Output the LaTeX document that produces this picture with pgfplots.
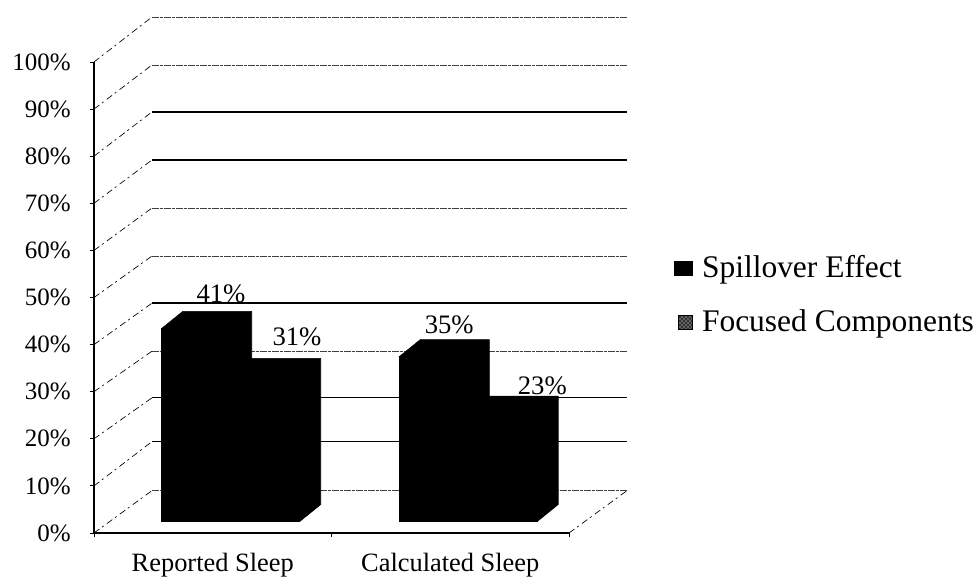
\documentclass[border=0pt]{standalone}
\usepackage{fontspec}
\setmainfont{Liberation Serif}
\usepackage{pgfplots}
\pgfplotsset{compat=1.18}
\usetikzlibrary{patterns}
% 1 image pixel = 0.75pt, page is 979x579
\tikzset{
  side/.style={black,line width=0.5pt,dash pattern=on 5pt off 2.5pt on 1.5pt off 3pt},
  solidback/.style={black,line width=1pt},
  faintback/.style={black!75,line width=0.6pt,dash pattern=on 5pt off 1pt on 2pt off 1pt},
  barbody/.style={fill=black,draw=black,line width=0.4pt},
  vlabel/.style={font=\fontsize{20pt}{21pt}\selectfont,anchor=base,inner sep=0pt},
}
\begin{document}
\begin{tikzpicture}
\path[use as bounding box] (0,0) rectangle (734.25pt,434.25pt);
% walls, floor and axis
\begin{axis}[
  at={(70.5pt,34.5pt)},anchor=south west,
  scale only axis,width=399.75pt,height=387pt,
  xmin=-0.5,xmax=1.7442,ymin=0,ymax=109.55,
  axis line style={draw=none},
  axis x line*=bottom,axis y line*=left,
  clip=false,
  ytick={0,10,...,100},
  yticklabel={\pgfmathprintnumber{\tick}\%},
  /pgf/number format/assume math mode=true,
  yticklabel style={font=\fontsize{18.75pt}{20pt}\selectfont,xshift=-11pt},
  xtick={-0.5,0.5,1.5},xticklabels={},
  extra x ticks={0,1},
  extra x tick labels={Reported Sleep,Calculated Sleep},
  extra x tick style={major tick length=0pt,xticklabel style={font=\fontsize{19.8pt}{21pt}\selectfont,inner sep=0pt,yshift=-15.2pt}},
  tick style={black,line width=0.6pt},
  major tick length=3pt,
  tick align=outside,
]
% front axis lines
\addplot[black,line width=1pt,forget plot] coordinates {(-0.5,0) (-0.5,100)};
\addplot[black,line width=1pt,forget plot] coordinates {(-0.5,0) (1.5,0)};
\addplot[side,forget plot] coordinates {(1.5,0) (1.7442,9.0)};
% receding grid lines
\addplot[side,forget plot] coordinates {(-0.5,0) (-0.2558,9.0)};
\addplot[side,forget plot] coordinates {(-0.5,10) (-0.2558,19.4)};
\addplot[side,forget plot] coordinates {(-0.5,20) (-0.2558,28.7)};
\addplot[side,forget plot] coordinates {(-0.5,30) (-0.2558,38.6)};
\addplot[side,forget plot] coordinates {(-0.5,40) (-0.2558,48.8)};
\addplot[side,forget plot] coordinates {(-0.5,50) (-0.2558,58.8)};
\addplot[side,forget plot] coordinates {(-0.5,60) (-0.2558,69.0)};
\addplot[side,forget plot] coordinates {(-0.5,70) (-0.2558,79.2)};
\addplot[side,forget plot] coordinates {(-0.5,80) (-0.2558,89.4)};
\addplot[side,forget plot] coordinates {(-0.5,90) (-0.2558,99.36)};
\addplot[side,forget plot] coordinates {(-0.5,100) (-0.2558,109.55)};
% back wall
\addplot[faintback,forget plot] coordinates {(-0.2558,9.0) (1.7442,9.0)};
\addplot[solidback,forget plot] coordinates {(-0.2558,19.4) (1.7442,19.4)};
\addplot[solidback,forget plot] coordinates {(-0.2558,28.7) (1.7442,28.7)};
\addplot[faintback,forget plot] coordinates {(-0.2558,38.6) (1.7442,38.6)};
\addplot[solidback,forget plot] coordinates {(-0.2558,48.8) (1.7442,48.8)};
\addplot[faintback,forget plot] coordinates {(-0.2558,58.8) (1.7442,58.8)};
\addplot[faintback,forget plot] coordinates {(-0.2558,69.0) (1.7442,69.0)};
\addplot[solidback,forget plot] coordinates {(-0.2558,79.2) (1.7442,79.2)};
\addplot[solidback,forget plot] coordinates {(-0.2558,89.4) (1.7442,89.4)};
\addplot[faintback,forget plot] coordinates {(-0.2558,99.36) (1.7442,99.36)};
\addplot[faintback,forget plot] coordinates {(-0.2558,109.55) (1.7442,109.55)};
\end{axis}
% bars, standing on the floor
\begin{axis}[
  at={(84pt,43.125pt)},anchor=south west,
  scale only axis,width=399.75pt,height=387pt,
  xmin=-0.5,xmax=1.7442,ymin=0,ymax=109.55,
  hide axis,clip=false,
  legend style={at={(1.053,0.521)},anchor=north west,draw=none,fill=none,
    font=\fontsize{23.6pt}{25pt}\selectfont,
    row sep=18.5pt,inner sep=0pt,
    /tikz/every odd column/.append style={column sep=5pt}},
  legend cell align=left,
]
\addplot[ybar,bar width=51.75pt,bar shift=-25.875pt,barbody,
  legend image code/.code={\fill[black] (0pt,-6pt) rectangle (14pt,5pt);}]
  coordinates {(0,41) (1,35)};
\addlegendentry{Spillover Effect}
\addplot[ybar,bar width=51.75pt,bar shift=25.875pt,barbody,
  legend image code/.code={\fill[black!80] (3pt,-6pt) rectangle (14pt,5pt);
    \fill[pattern=crosshatch dots,pattern color=white] (3pt,-6pt) rectangle (14pt,5pt);}]
  coordinates {(0,31) (1,23)};
\addlegendentry{Focused Components}
% depth of each bar
\addplot[barbody,forget plot] coordinates
  {(-0.2905,41) (-0.2021,44.61) (0.0884,44.61) (0.0884,3.61) (0,0) (0,41)} -- cycle;
\addplot[barbody,forget plot] coordinates
  {(0,31) (0.0884,34.61) (0.3789,34.61) (0.3789,3.61) (0.2905,0) (0.2905,31)} -- cycle;
\addplot[barbody,forget plot] coordinates
  {(0.7095,35) (0.7979,38.61) (1.0884,38.61) (1.0884,3.61) (1,0) (1,35)} -- cycle;
\addplot[barbody,forget plot] coordinates
  {(1,23) (1.0884,26.61) (1.3789,26.61) (1.3789,3.61) (1.2905,0) (1.2905,23)} -- cycle;
% value labels
\node[vlabel] at (axis cs:-0.041,46.4) {41\%};
\node[vlabel] at (axis cs:0.279,37.4) {31\%};
\node[vlabel] at (axis cs:0.92,40.0) {35\%};
\node[vlabel] at (axis cs:1.312,26.9) {23\%};
\end{axis}
\end{tikzpicture}
\end{document}
